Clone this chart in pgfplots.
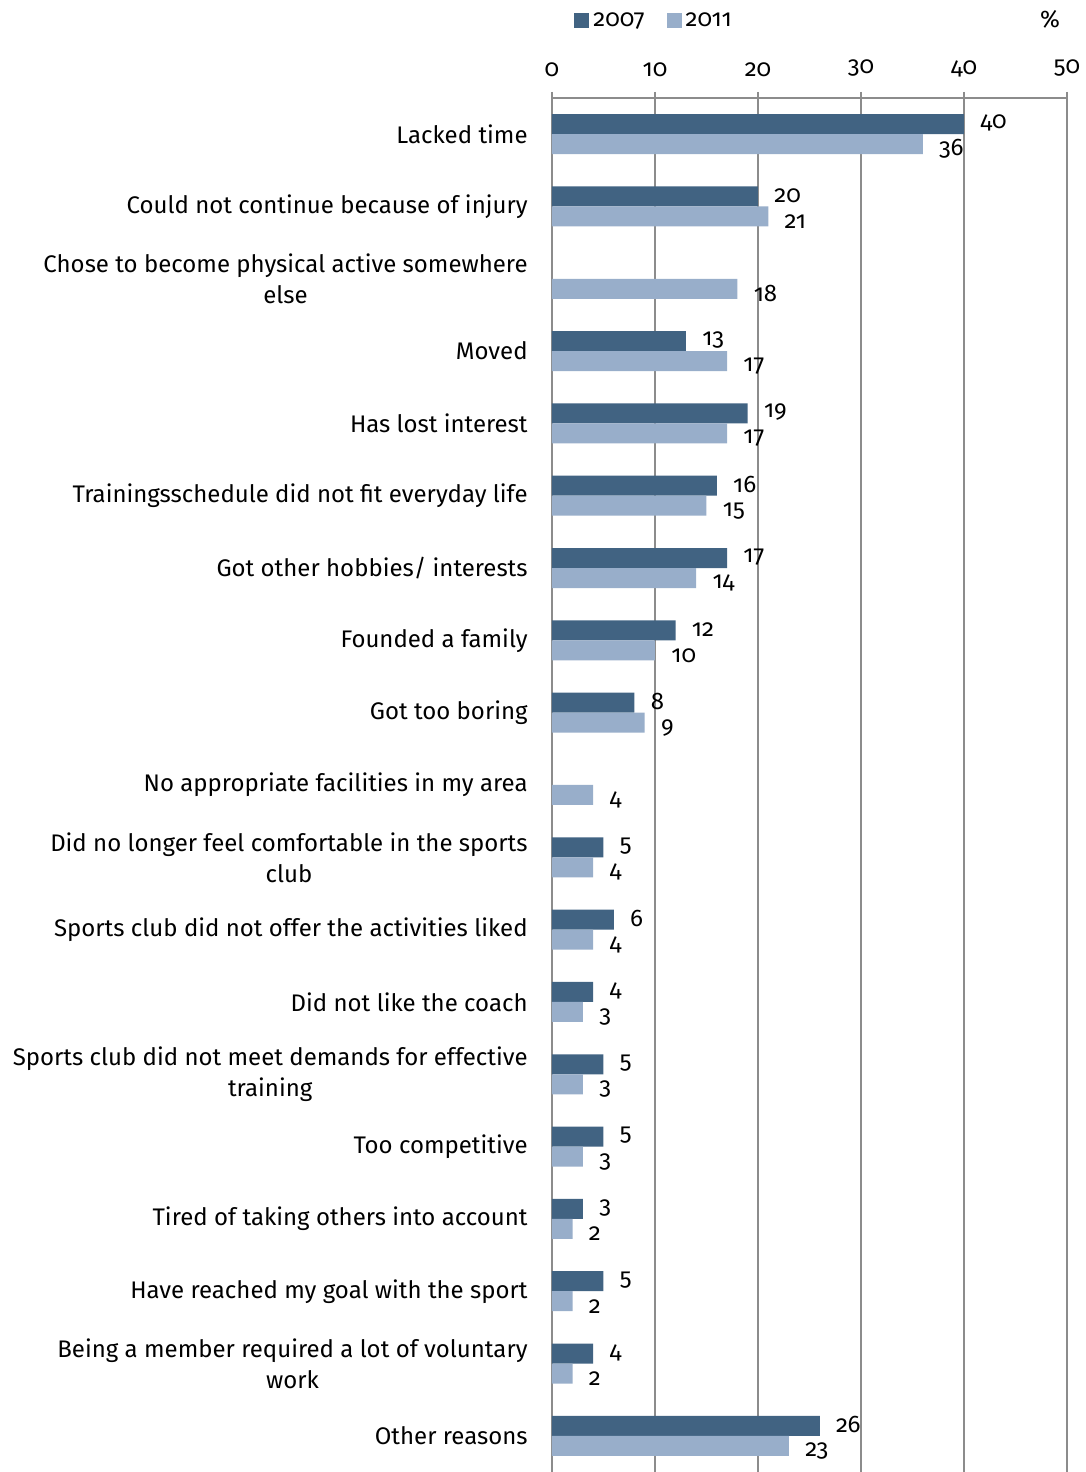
\documentclass[border=0pt]{standalone}
\usepackage{pgfplots}
\pgfplotsset{compat=1.18}
\usepackage{fontspec}
\setmainfont{Fira Sans}[Numbers=OldStyle]
\definecolor{dark}{HTML}{416382}
\definecolor{light}{HTML}{98AECA}
\definecolor{gridc}{HTML}{8C8C8C}
\begin{document}
\fontsize{12}{15.5}\selectfont
\begin{tikzpicture}
\begin{axis}[
  at={(0,0)}, anchor=south west,
  scale only axis, width=257.5pt, height=687pt,
  xmin=0, xmax=50, ymin=-0.5, ymax=18.5,
  axis x line*=top, axis y line*=left,
  axis line style={gridc, line width=1pt},
  xbar, bar width=10pt,
  xtick={0,10,...,50},
  xmajorgrids, major grid style={gridc, line width=1pt},
  tick align=outside,
  major tick length=3pt,
  ytick={0,...,18},
  y tick style={draw=none},
  minor ytick={-0.5,0.5,...,18.5},
  minor tick length=4pt,
  every tick/.style={gridc, line width=1pt},
  minor y tick style={gridc, line width=1pt},
  /pgf/number format/assume math mode=true,
  ticklabel style={font=\fontsize{12}{15.5}\selectfont},
  xticklabel style={yshift=3.5pt},
  yticklabel style={align=center, xshift=-5pt},
  yticklabels={Other reasons,
    {Being a member required a lot of voluntary\\work},
    Have reached my goal with the sport,
    Tired of taking others into account,
    Too competitive,
    {Sports club did not meet demands for effective\\training},
    Did not like the coach,
    Sports club did not offer the activities liked,
    {Did no longer feel comfortable in the sports\\club},
    No appropriate facilities in my area,
    Got too boring,
    Founded a family,
    Got other hobbies/ interests,
    Trainingsschedule did not fit everyday life,
    Has lost interest,
    Moved,
    {Chose to become physical active somewhere\\else},
    Could not continue because of injury,
    Lacked time},
  nodes near coords,
  nodes near coords style={font=\fontsize{12}{15.5}\selectfont, anchor=west, xshift=4pt},
  clip=false,
  legend style={draw=none, fill=none, at={(axis description cs:0,1)}, anchor=west, xshift=8pt, yshift=38.5pt, legend columns=2, font=\fontsize{12}{15.5}\selectfont, /tikz/every even column/.append style={column sep=9pt}},
]
\addplot[fill=dark, draw=none, bar shift=5pt,
  every node near coord/.append style={yshift=0.5pt},
  legend image code/.code={\fill[dark] (0pt,-3.75pt) rectangle (7.5pt,3.75pt);}]
  coordinates {(26,0) (4,1) (5,2) (3,3) (5,4) (5,5) (4,6) (6,7) (5,8)
    (8,10) (12,11) (17,12) (16,13) (19,14) (13,15) (20,17) (40,18)};
\addlegendentry{2007}
\addplot[fill=light, draw=none, bar shift=-5pt,
  every node near coord/.append style={yshift=-2.5pt},
  legend image code/.code={\fill[light] (0pt,-3.75pt) rectangle (7.5pt,3.75pt);}]
  coordinates {(23,0) (2,1) (2,2) (2,3) (3,4) (3,5) (3,6) (4,7) (4,8) (4,9)
    (9,10) (10,11) (14,12) (15,13) (17,14) (17,15) (18,16) (21,17) (36,18)};
\addlegendentry{2011}
\node[anchor=center, font=\fontsize{12}{15.5}\selectfont] at ([yshift=39.5pt]axis description cs:0.967,1) {\%};
\end{axis}
\pgfresetboundingbox
\path[use as bounding box] (-276pt,0pt) rectangle (267pt,736pt);
\end{tikzpicture}
\end{document}
